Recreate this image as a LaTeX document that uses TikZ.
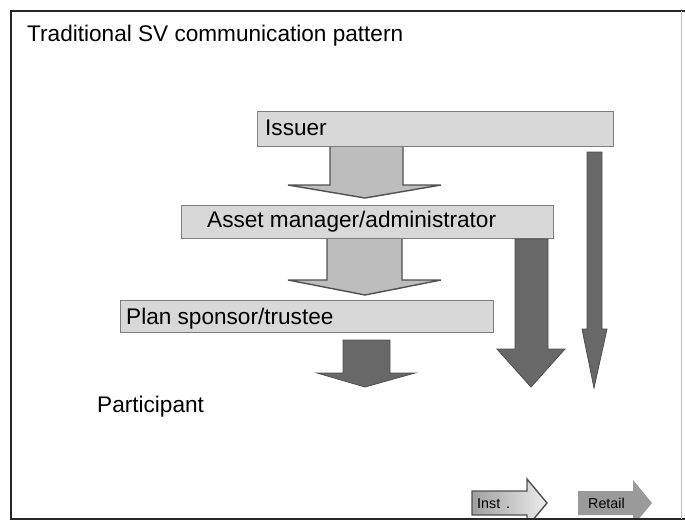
\documentclass[tikz,border=0pt]{standalone}
\usepackage{fontspec}
\setmainfont{Liberation Sans}
\definecolor{boxfill}{HTML}{D8D8D8}
\definecolor{boxedge}{HTML}{7E7E7E}
\definecolor{lightfill}{HTML}{BDBDBD}
\definecolor{arrowedge}{HTML}{505050}
\definecolor{darkfill}{HTML}{686868}
\definecolor{darkedge}{HTML}{4E4E4E}
\definecolor{retailfill}{HTML}{9A9A9A}
\begin{document}
\begin{tikzpicture}[x=1pt,y=-1pt,
  box/.style={draw=boxedge, fill=boxfill, line width=1.4pt, inner sep=0pt, anchor=north west},
  lightarrow/.style={draw=arrowedge, fill=lightfill, line width=1.4pt, line join=miter},
  darkarrow/.style={draw=darkedge, fill=darkfill, line width=0.8pt, line join=miter},
  lbl/.style={anchor=base west, inner sep=0pt, font=\fontsize{22.6}{25}\selectfont},
  small/.style={anchor=base west, inner sep=0pt, font=\fontsize{14.3}{16}\selectfont}]
\useasboundingbox (0,0) rectangle (685,523);
\fill[white] (0,0) rectangle (685,523);

% boxes
\node[box, minimum width=356pt, minimum height=35pt] (issuer) at (257,111) {};
\node[box, minimum width=372pt, minimum height=33pt] (asset) at (181,205) {};
\node[box, minimum width=373pt, minimum height=32pt] (plan) at (120,300) {};

% texts
\node[lbl] (title) at (27,41) {Traditional SV communication pattern};
\node[lbl] (tissuer) at (265,135) {Issuer};
\node[lbl] (tasset) at (207,227) {Asset manager/administrator};
\node[lbl] (tplan) at (126,324) {Plan sponsor/trustee};
\node[lbl] (tpart) at (97,412) {Participant};

% block arrows between levels
\draw[lightarrow] (330,147) -- (330,185) -- (288,185) -- (365,198) -- (441,185) -- (403,185) -- (403,147);
\draw[lightarrow] (327,239) -- (327,280) -- (288,280) -- (365,295) -- (441,280) -- (402,280) -- (402,239);
\draw[darkarrow] (343,340) -- (343,373) -- (317,373) -- (365,387) -- (415,373) -- (390,373) -- (390,340) -- cycle;
\draw[darkarrow] (515,239) -- (515,349) -- (497,349) -- (531,387) -- (565,349) -- (548,349) -- (548,239) -- cycle;
\draw[darkarrow] (587,152) -- (587,329) -- (582,329) -- (594,388) -- (607,329) -- (602,329) -- (602,152) -- cycle;

% legend arrows
\begin{scope}
\clip (11,11) rectangle (681,519);
\draw[draw=arrowedge, line width=1.4pt, line join=miter, left color=gray!75, right color=gray!15]
  (472,491) -- (527,491) -- (527,479) -- (547,503) -- (527,527) -- (527,515) -- (472,515) -- cycle;
\fill[retailfill] (578,491) -- (633,491) -- (633,480) -- (652,503) -- (633,526) -- (633,515) -- (578,515) -- cycle;
\end{scope}
\node[small] (tinst) at (477,508) {Inst\hspace{6pt}.};
\node[small] (tretail) at (588,508) {Retail};

% frame
\draw[black!85, line width=2.5pt] (685,11) -- (11,11) -- (11,519) -- (685,519);
\draw[black!25, line width=0.6pt] (681,11) -- (681,519);
\end{tikzpicture}
\end{document}
